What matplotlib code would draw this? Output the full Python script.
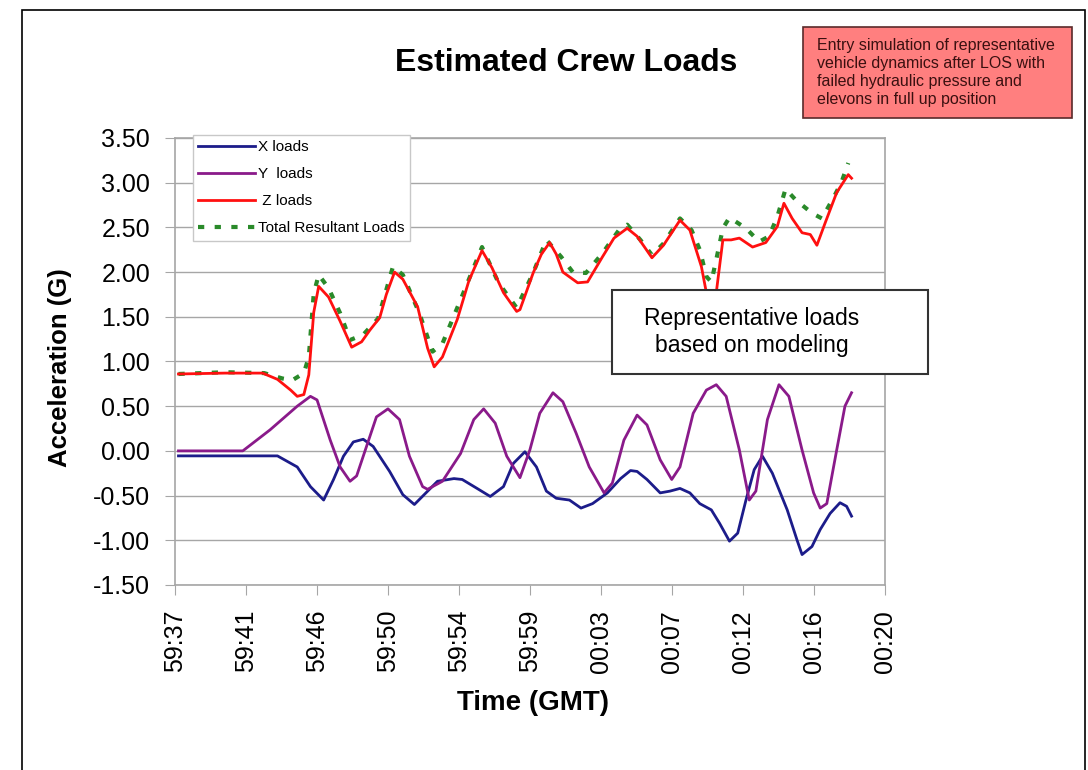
import numpy as np
import matplotlib
matplotlib.use("Agg")
import matplotlib.pyplot as plt
from matplotlib.patches import Rectangle

plt.rcParams["font.family"] = ["Liberation Sans", "DejaVu Sans"]

# seconds after 59:37 GMT
tick_labels = ["59:37", "59:41", "59:46", "59:50", "59:54", "59:59",
               "00:03", "00:07", "00:12", "00:16", "00:20"]

x_t = [0.2, 6.2, 7.4, 8.2, 9.0, 9.6, 10.2, 10.8, 11.4, 12.0, 13.0, 13.8, 14.5,
       15.2, 15.9, 16.9, 17.4, 18.3, 19.1, 19.9, 20.5, 21.2, 21.9, 22.5, 23.1,
       23.9, 24.6, 25.3, 26.2, 27.0, 27.6, 28.0, 28.6, 29.4, 30.0, 30.6, 31.2,
       31.8, 32.5, 33.0, 33.6, 34.1, 34.6, 35.1, 35.6, 36.2, 37.1, 37.7, 38.0,
       38.6, 39.1, 39.7, 40.3, 40.7, 41.0]
x_loads = [-0.056, -0.056, -0.18, -0.40, -0.55, -0.32, -0.06, 0.10, 0.13, 0.05,
           -0.23, -0.49, -0.60, -0.47, -0.34, -0.31, -0.32, -0.42, -0.51, -0.40,
           -0.14, -0.01, -0.18, -0.45, -0.53, -0.55, -0.64, -0.59, -0.47, -0.31,
           -0.22, -0.23, -0.32, -0.47, -0.45, -0.42, -0.47, -0.59, -0.66, -0.81,
           -1.01, -0.92, -0.55, -0.21, -0.06, -0.25, -0.66, -1.00, -1.16, -1.07,
           -0.88, -0.70, -0.58, -0.62, -0.73]

y_t = [0.2, 4.1, 5.75, 7.4, 8.2, 8.6, 9.4, 10.0, 10.6, 11.0, 11.6, 12.2, 12.9,
       13.6, 14.2, 15.0, 15.3, 16.2, 17.3, 18.1, 18.7, 19.4, 20.1, 20.9, 21.5,
       22.1, 22.9, 23.5, 24.3, 25.1, 26.0, 26.5, 27.2, 28.0, 28.6, 29.4, 30.1,
       30.6, 31.4, 32.2, 32.8, 33.4, 34.2, 34.8, 35.2, 35.9, 36.6, 37.2, 38.0,
       38.7, 39.1, 39.5, 40.1, 40.6, 41.0]
y_loads = [0.0, 0.0, 0.235, 0.50, 0.61, 0.57, 0.12, -0.18, -0.34, -0.28, 0.05,
           0.38, 0.47, 0.35, -0.06, -0.40, -0.43, -0.34, -0.03, 0.35, 0.47, 0.31,
           -0.06, -0.30, 0.01, 0.42, 0.65, 0.55, 0.20, -0.18, -0.47, -0.36, 0.12,
           0.40, 0.29, -0.10, -0.32, -0.18, 0.42, 0.68, 0.74, 0.61, 0.01, -0.55,
           -0.45, 0.35, 0.74, 0.61, 0.01, -0.47, -0.64, -0.59, 0.01, 0.50, 0.65]

z_t = [0.2, 3.0, 5.3, 6.2, 7.0, 7.4, 7.8, 8.1, 8.4, 8.7, 9.3, 10.0, 10.7, 11.3,
       11.8, 12.4, 12.8, 13.3, 13.8, 14.7, 15.3, 15.7, 16.2, 17.1, 17.8, 18.6,
       19.2, 19.9, 20.7, 20.9, 21.7, 22.2, 22.7, 23.1, 23.5, 24.4, 25.0, 25.9,
       26.6, 27.4, 28.0, 28.9, 29.6, 30.6, 31.2, 31.9, 32.2, 32.5, 32.8, 33.2,
       33.7, 34.2, 35.0, 35.8, 36.5, 36.9, 37.4, 38.0, 38.5, 38.9, 39.4, 40.1,
       40.8, 41.0]
z_loads = [0.86, 0.87, 0.87, 0.80, 0.68, 0.61, 0.63, 0.85, 1.55, 1.84, 1.72,
           1.45, 1.16, 1.22, 1.35, 1.49, 1.75, 2.00, 1.92, 1.61, 1.15, 0.94, 1.05,
           1.47, 1.90, 2.24, 2.05, 1.77, 1.56, 1.58, 1.99, 2.20, 2.33, 2.20, 2.00,
           1.88, 1.89, 2.17, 2.38, 2.49, 2.40, 2.16, 2.30, 2.58, 2.47, 2.06, 1.77,
           1.60, 1.77, 2.36, 2.36, 2.38, 2.28, 2.33, 2.51, 2.77, 2.60, 2.44, 2.42,
           2.30, 2.55, 2.89, 3.09, 3.05]

tot_t = [0.2, 3.0, 5.4, 6.5, 7.1, 7.8, 8.1, 8.4, 8.7, 9.3, 10.0, 10.6, 11.4,
         12.3, 13.2, 13.8, 14.8, 15.6, 16.2, 17.3, 18.6, 19.6, 20.7, 21.7, 22.5,
         23.4, 24.1, 24.9, 25.9, 26.9, 27.4, 28.2, 28.9, 29.6, 30.6, 31.3, 31.8,
         32.2, 32.5, 32.8, 33.2, 33.6, 34.6, 35.4, 36.0, 36.5, 37.0, 37.6, 38.6,
         39.2, 39.9, 40.4, 40.8]
tot_loads = [0.86, 0.88, 0.87, 0.81, 0.79, 0.87, 1.05, 1.76, 1.97, 1.82, 1.54,
             1.24, 1.30, 1.48, 2.06, 1.97, 1.54, 1.11, 1.20, 1.69, 2.28, 1.88,
             1.60, 1.99, 2.36, 2.17, 2.00, 1.99, 2.21, 2.47, 2.53, 2.36, 2.19,
             2.32, 2.60, 2.47, 2.25, 1.95, 1.89, 2.14, 2.49, 2.61, 2.49, 2.34,
             2.40, 2.62, 2.93, 2.81, 2.66, 2.60, 2.83, 3.01, 3.22]

fig = plt.figure(figsize=(10.88, 7.70), dpi=100)
ax = fig.add_axes([0.161, 0.2403, 0.652, 0.5805])

grid_c = "#a6a6a6"
ax.plot(x_t, x_loads, color="#1c1c8a", lw=2, label="X loads", solid_joinstyle="round")
ax.plot(y_t, y_loads, color="#8a1a8a", lw=2, label="Y  loads", solid_joinstyle="round")
ax.plot(tot_t, tot_loads, color="#2a8a2a", lw=3, ls=(0, (1.5, 2.5)),
        label="Total Resultant Loads", zorder=2)
ax.plot(z_t, z_loads, color="#ff1010", lw=2, label=" Z loads", solid_joinstyle="round", zorder=3)

ax.set_xlim(0, 43)
ax.set_ylim(-1.5, 3.5)
ax.set_yticks(np.arange(-1.5, 3.51, 0.5))
ax.set_yticklabels([f"{v:.2f}" for v in np.arange(-1.5, 3.51, 0.5)])
ax.set_xticks(np.linspace(0, 43, len(tick_labels)))
ax.set_xticklabels(tick_labels, rotation=90)
ax.tick_params(labelsize=18, length=7, color=grid_c, pad=11)
ax.yaxis.grid(True, color=grid_c, lw=1)
ax.set_axisbelow(True)
for s in ax.spines.values():
    s.set_color(grid_c)
    s.set_linewidth(1.2)

handles, labels = ax.get_legend_handles_labels()
order = [0, 1, 3, 2]
leg = ax.legend([handles[i] for i in order], [labels[i] for i in order],
                loc="upper left", bbox_to_anchor=(0.025, 1.007), borderaxespad=0,
                fontsize=11, handlelength=3.7, labelspacing=0.85,
                handletextpad=0.2, borderpad=0.35, fancybox=False,
                framealpha=1, edgecolor="#c8c8c8")
leg.get_frame().set_linewidth(1)

fig.text(0.52, 0.918, "Estimated Crew Loads", ha="center", va="center",
         fontsize=23, fontweight="bold")
fig.text(0.055, 0.523, "Acceleration (G)", ha="center", va="center",
         rotation=90, fontsize=18.5, fontweight="bold")
fig.text(0.49, 0.087, "Time (GMT)", ha="center", va="center",
         fontsize=20, fontweight="bold")

# annotation boxes
fig.patches.append(Rectangle((0.5625, 0.5143), 0.2904, 0.109, transform=fig.transFigure,
                             facecolor="white", edgecolor="#333333", lw=1.5, zorder=5))
fig.text(0.691, 0.569, "Representative loads\nbased on modeling", ha="center",
         va="center", fontsize=16.5, linespacing=1.25, zorder=6)

fig.patches.append(Rectangle((0.738, 0.8468), 0.247, 0.118, transform=fig.transFigure,
                             facecolor="#ff7f7f", edgecolor="#5a2a2a", lw=1.2, zorder=5))
fig.text(0.751, 0.906, "Entry simulation of representative\nvehicle dynamics after LOS with\n"
         "failed hydraulic pressure and\nelevons in full up position",
         ha="left", va="center", fontsize=11.5, linespacing=1.25, color="#3a1010", zorder=6)

# slide frame
fig.patches.append(Rectangle((0.0202, -0.1), 0.977, 1.087, transform=fig.transFigure,
                             fill=False, edgecolor="black", lw=1.2))

fig.savefig("out.png", dpi=100)
